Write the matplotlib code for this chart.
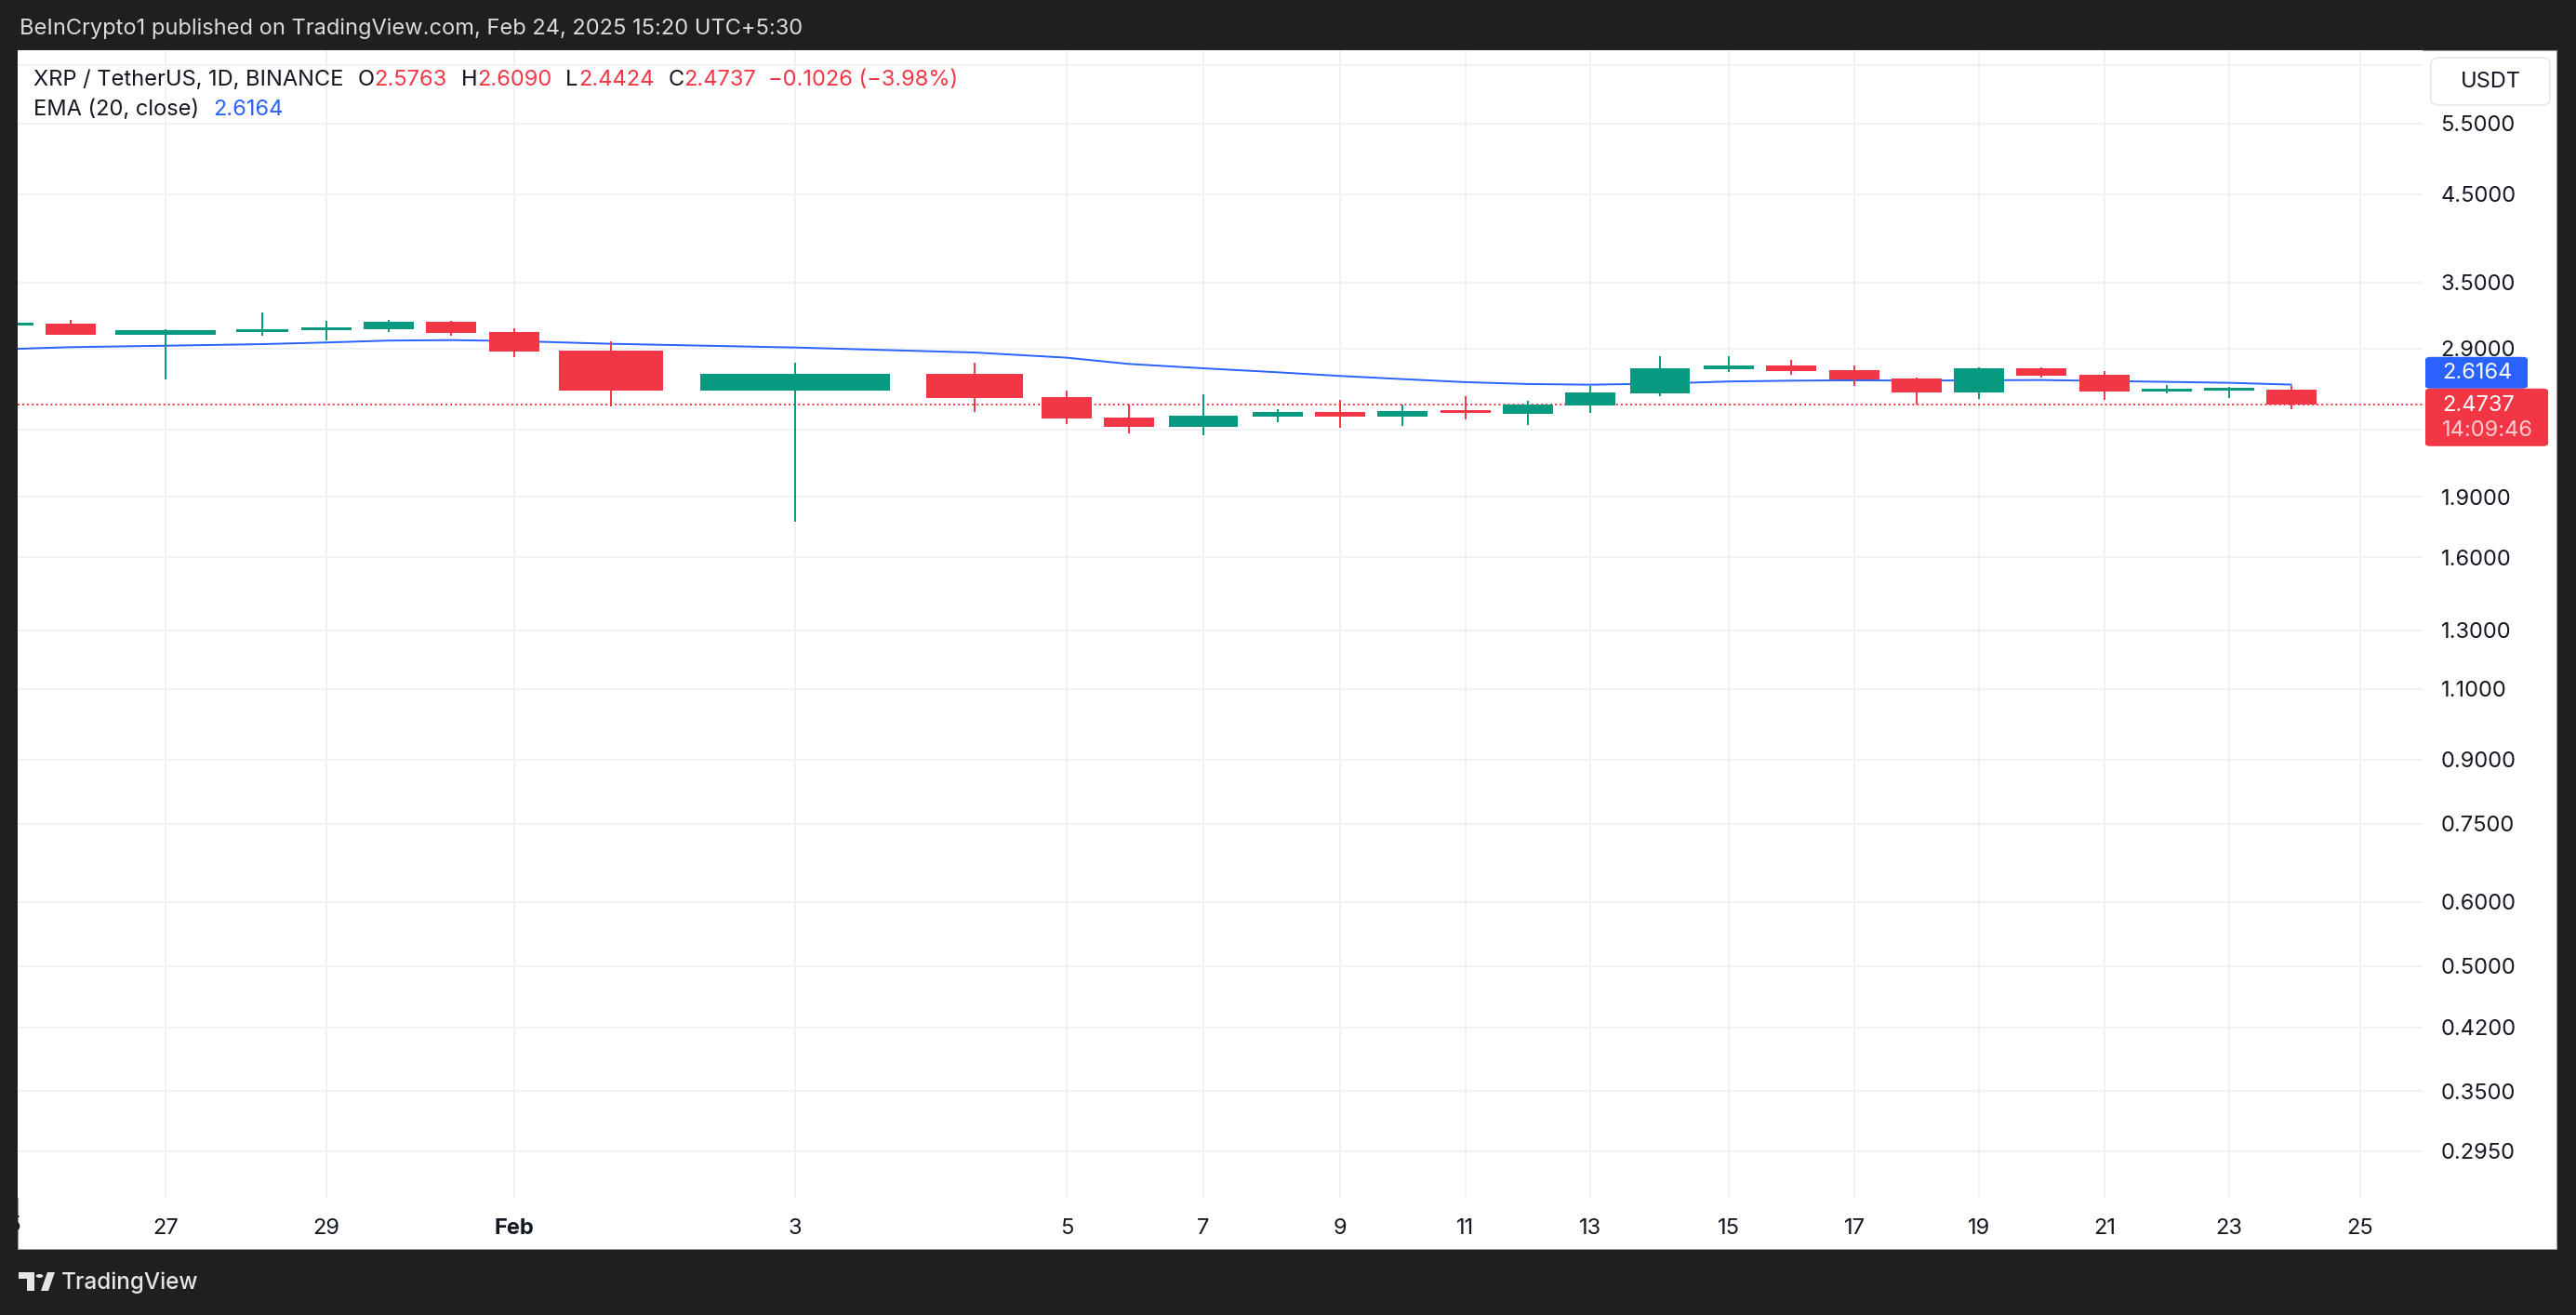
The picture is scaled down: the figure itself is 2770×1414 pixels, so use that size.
import numpy as np
import matplotlib
matplotlib.use("Agg")
import matplotlib.pyplot as plt
from matplotlib.patches import Rectangle, FancyBboxPatch, Polygon, Circle
import matplotlib.ticker as mticker

# ---------------- data ----------------
dates = ["Jan 25", "Jan 26", "Jan 27", "Jan 28", "Jan 29", "Jan 30", "Jan 31",
         "Feb 1", "Feb 2", "Feb 3", "Feb 4", "Feb 5", "Feb 6", "Feb 7", "Feb 8",
         "Feb 9", "Feb 10", "Feb 11", "Feb 12", "Feb 13", "Feb 14", "Feb 15",
         "Feb 16", "Feb 17", "Feb 18", "Feb 19", "Feb 20", "Feb 21", "Feb 22",
         "Feb 23", "Feb 24"]
opens = [3.105, 3.113, 3.015, 3.045, 3.060, 3.065, 3.130, 3.039, 2.883, 2.574,
         2.698, 2.525, 2.382, 2.322, 2.390, 2.420, 2.390, 2.433, 2.409, 2.468,
         2.554, 2.736, 2.763, 2.727, 2.663, 2.561, 2.741, 2.691, 2.568, 2.574,
         2.5763]
highs = [3.125, 3.148, 3.060, 3.213, 3.137, 3.148, 3.137, 3.072, 2.960, 2.785,
         2.785, 2.572, 2.472, 2.545, 2.440, 2.505, 2.472, 2.532, 2.499, 2.607,
         2.837, 2.837, 2.807, 2.763, 2.670, 2.748, 2.748, 2.719, 2.614, 2.600,
         2.6090]
lows = [3.100, 3.012, 2.657, 3.007, 2.968, 3.040, 3.007, 2.830, 2.461, 1.772,
        2.422, 2.340, 2.279, 2.267, 2.353, 2.316, 2.328, 2.371, 2.334, 2.416,
        2.534, 2.714, 2.693, 2.609, 2.474, 2.514, 2.672, 2.507, 2.554, 2.521,
        2.4424]
closes = [3.120, 3.015, 3.055, 3.065, 3.080, 3.130, 3.031, 2.875, 2.574, 2.698,
          2.521, 2.378, 2.322, 2.395, 2.420, 2.390, 2.427, 2.420, 2.472, 2.559,
          2.741, 2.763, 2.722, 2.657, 2.561, 2.741, 2.686, 2.568, 2.579, 2.586,
          2.4737]
ema20 = [2.895, 2.911, 2.923, 2.936, 2.950, 2.966, 2.970, 2.962, 2.939, 2.908,
         2.867, 2.825, 2.775, 2.741, 2.710, 2.682, 2.658, 2.635, 2.621, 2.616,
         2.624, 2.640, 2.646, 2.649, 2.646, 2.649, 2.651, 2.644, 2.637, 2.630,
         2.6164]
ema_label = 2.6164
last_price = 2.4737
countdown = "14:09:46"

price_ticks = [0.295, 0.35, 0.42, 0.5, 0.6, 0.75, 0.9, 1.1, 1.3, 1.6, 1.9,
               2.9, 3.5, 4.5, 5.5]
hidden_grid = [2.3, 6.5]
date_tick_days = [2, 4, 7, 9, 11, 13, 15, 17, 19, 21, 23, 25, 27, 29, 31]
date_tick_labels = ["27", "29", "Feb", "3", "5", "7", "9", "11", "13", "15",
                    "17", "19", "21", "23", "25"]

# ---------------- layout / style ----------------
W, H = 2770, 1414
DARK = "#1f1f1f"
GREEN = "#089981"
RED = "#f23645"
BLUE = "#2962ff"
TXT = "#131722"
GRID = "#f0f1f3"
FONT = ["Inter", "DejaVu Sans"]
FS = 17

# time axis of the screenshot is not uniform: knots (day index -> pixel)
knot_days = np.array([-1, 0, 1, 2, 3, 4, 5, 6, 7, 8, 9, 10, 11, 12, 13, 14,
                      15, 16, 17, 18, 19, 20, 21, 22, 23, 24, 25, 26, 27, 28,
                      29, 30, 31, 32], dtype=float)
knot_px = np.array([-58, 9, 76, 178, 282, 351, 418, 485, 553, 657, 855, 1048,
                    1147, 1214, 1294, 1374, 1441, 1508, 1576, 1643, 1710, 1785,
                    1859, 1926, 1994, 2061, 2128, 2195, 2263, 2330, 2397, 2464,
                    2537.5, 2605], dtype=float)
body_px = [54, 54, 108, 56, 54, 54, 54, 54, 112, 203, 104, 54, 54, 74, 54, 54,
           54, 54, 54, 54, 64, 54, 54, 54, 54, 54, 54, 54, 54, 54, 54]


def fwd(d):
    return np.interp(d, knot_days, knot_px)


def inv(p):
    return np.interp(p, knot_px, knot_days)


def fx(x):
    return x / W


def fy(y):
    return 1 - y / H


fig = plt.figure(figsize=(W / 100, H / 100), dpi=100)
fig.patch.set_facecolor(DARK)
fig.add_artist(Rectangle((fx(19), fy(1343)), fx(2749) - fx(19), fy(54) - fy(1343),
                         transform=fig.transFigure, facecolor="white",
                         edgecolor="#9a9a9a", lw=0.8, zorder=0))

AX_L, AX_R, AX_T, AX_B = 19, 2605, 54, 1288
ax = fig.add_axes([fx(AX_L), fy(AX_B), fx(AX_R) - fx(AX_L), fy(AX_T) - fy(AX_B)])
ax.set_facecolor("white")
ax.set_xscale("function", functions=(fwd, inv))
ax.set_xlim(inv(AX_L), inv(AX_R))
ax.set_yscale("log")
ymin, ymax = 0.2584, 6.779
ax.set_ylim(ymin, ymax)
for s in ax.spines.values():
    s.set_visible(False)

px_per_ln = (AX_B - AX_T) / (np.log(ymax) - np.log(ymin))

# grid
ax.yaxis.set_major_locator(mticker.FixedLocator(price_ticks))
ax.yaxis.set_major_formatter(mticker.FuncFormatter(lambda v, p: f"{v:.4f}"))
ax.yaxis.set_minor_locator(mticker.FixedLocator(hidden_grid))
ax.yaxis.set_minor_formatter(mticker.NullFormatter())
ax.xaxis.set_major_locator(mticker.FixedLocator(date_tick_days))
ax.xaxis.set_major_formatter(mticker.FixedFormatter(date_tick_labels))
ax.xaxis.set_minor_locator(mticker.NullLocator())
ax.grid(True, which="both", color=GRID, lw=1.4, zorder=0)
ax.set_axisbelow(True)
ax.yaxis.tick_right()
ax.tick_params(axis="y", which="both", length=0, pad=14, labelsize=FS,
               labelcolor=TXT)
ax.tick_params(axis="x", which="both", length=0, pad=16, labelsize=FS,
               labelcolor=TXT)
for lab in ax.get_yticklabels() + ax.get_xticklabels():
    lab.set_family(FONT)
for lab in ax.get_xticklabels():
    if lab.get_text() == "Feb":
        lab.set_fontweight("bold")

# partially visible "25" at the left edge
ax.text(0, -0.0243, "25", transform=ax.get_xaxis_transform(), ha="center",
        va="center", fontsize=FS, color=TXT, family=FONT, clip_on=False)

# candles
days = np.arange(len(dates), dtype=float)
min_ratio = np.exp(3.0 / px_per_ln)
for d, o, h, l, c, wpx in zip(days, opens, highs, lows, closes, body_px):
    col = GREEN if c >= o else RED
    ax.vlines(d, l, h, color=col, lw=1.4, zorder=3)
    lo, hi = min(o, c), max(o, c)
    if hi / lo < min_ratio:
        mid = np.sqrt(hi * lo)
        lo, hi = mid / np.sqrt(min_ratio), mid * np.sqrt(min_ratio)
    cx = fwd(d)
    left, right = inv(cx - wpx / 2), inv(cx + wpx / 2)
    ax.bar(left, hi - lo, width=right - left, bottom=lo, align="edge",
           color=col, lw=0, zorder=4)

# EMA (drawn beneath the candles, as in the reference)
ax.plot(days, ema20, color=BLUE, lw=1.4, zorder=2.5, solid_capstyle="round")

# last price dotted line
ax.axhline(last_price, color=RED, lw=1.4, ls=(0, (1, 1.6)), zorder=2)

# ---------------- header & legend text ----------------
renderer = fig.canvas.get_renderer()
fig.text(fx(21), fy(31), "BeInCrypto1 published on TradingView.com, Feb 24, 2025 15:20 UTC+5:30",
         color="#dcdcdc", fontsize=FS, va="center", ha="left", family=FONT)


def seq(x0, y, parts):
    x = x0
    for s, col, gap in parts:
        t = fig.text(x / W, fy(y), s, color=col, fontsize=FS, va="center",
                     ha="left", family=FONT, zorder=20)
        bb = t.get_window_extent(renderer)
        x = bb.x1 + gap


o_, h_, l_, c_ = opens[-1], highs[-1], lows[-1], closes[-1]
chg = c_ - opens[-1]
pct = chg / opens[-1] * 100
seq(36, 86, [("XRP / TetherUS, 1D, BINANCE", TXT, 15),
             ("O", TXT, 0), (f"{o_:.4f}", RED, 15),
             ("H", TXT, 0), (f"{h_:.4f}", RED, 15),
             ("L", TXT, 0), (f"{l_:.4f}", RED, 15),
             ("C", TXT, 0), (f"{c_:.4f}", RED, 13),
             (f"\u2212{abs(chg):.4f} (\u2212{abs(pct):.2f}%)", RED, 0)])
seq(36, 118, [("EMA (20, close)", TXT, 15), (f"{ema_label:.4f}", BLUE, 0)])

# ---------------- price-axis boxes ----------------
fig.add_artist(FancyBboxPatch((fx(2614), fy(113)), fx(2742) - fx(2614), fy(62) - fy(113),
                              boxstyle="round,pad=0,rounding_size=0.004",
                              transform=fig.transFigure, facecolor="white",
                              edgecolor="#e6e8ec", lw=1.2, zorder=10))
fig.text(fx(2678), fy(88), "USDT", color=TXT, fontsize=FS, ha="center",
         va="center", family=FONT, zorder=11)

price_y = H - ax.transData.transform((inv(1000), last_price))[1]
red_top = price_y - 17
red_bot = red_top + 62
blue_bot = red_top
blue_top = blue_bot - 34
fig.add_artist(FancyBboxPatch((fx(2608), fy(blue_bot)), fx(2718) - fx(2608), fy(blue_top) - fy(blue_bot),
                              boxstyle="round,pad=0,rounding_size=0.002",
                              transform=fig.transFigure, facecolor=BLUE,
                              lw=0, zorder=10))
fig.text(fx(2626), fy((blue_top + blue_bot) / 2), f"{ema_label:.4f}", color="white",
         fontsize=FS, ha="left", va="center", family=FONT, zorder=11)
fig.add_artist(FancyBboxPatch((fx(2608), fy(red_bot)), fx(2740) - fx(2608), fy(red_top) - fy(red_bot),
                              boxstyle="round,pad=0,rounding_size=0.002",
                              transform=fig.transFigure, facecolor=RED,
                              lw=0, zorder=10))
fig.text(fx(2626), fy(price_y + 1), f"{last_price:.4f}", color="white",
         fontsize=FS, ha="left", va="center", family=FONT, zorder=11)
fig.text(fx(2626), fy(price_y + 28), countdown, color="white", alpha=0.75,
         fontsize=FS, ha="left", va="center", family=FONT, zorder=11)

# ---------------- dark left strip and footer logo ----------------
fig.add_artist(Rectangle((0, 0), fx(19), 1, transform=fig.transFigure,
                         facecolor=DARK, lw=0, zorder=30))
LOGO = "#e6e6e6"
fig.add_artist(Polygon([(fx(20), fy(1368)), (fx(37), fy(1368)), (fx(37), fy(1388)),
                        (fx(29), fy(1388)), (fx(29), fy(1375)), (fx(20), fy(1375))],
                       closed=True, transform=fig.transFigure, facecolor=LOGO,
                       lw=0, zorder=31))
fig.add_artist(Circle((fx(42.5), fy(1372)), 3.8 / W, transform=fig.transFigure,
                      facecolor=LOGO, lw=0, zorder=31))
fig.add_artist(Polygon([(fx(44), fy(1388)), (fx(51), fy(1368)), (fx(59), fy(1368)),
                        (fx(52), fy(1388))], closed=True, transform=fig.transFigure,
                       facecolor=LOGO, lw=0, zorder=31))
fig.text(fx(66), fy(1379), "TradingView", color=LOGO, fontsize=17.5,
         ha="left", va="center", family=FONT, fontweight="medium", zorder=31)

fig.savefig("out.png", dpi=100, facecolor=DARK)
